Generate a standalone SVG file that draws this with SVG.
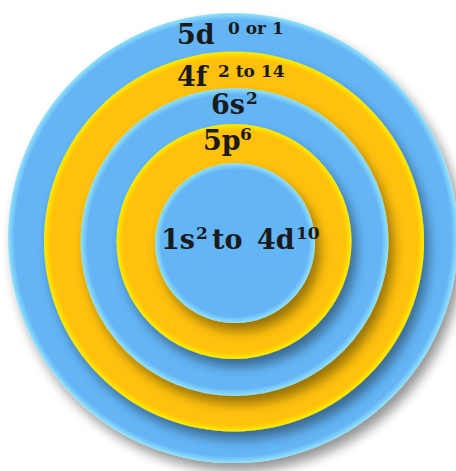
<svg xmlns="http://www.w3.org/2000/svg" width="456" height="471" viewBox="0 0 456 471">
<defs>
<filter id="ds" x="-20%" y="-20%" width="145%" height="145%">
<feGaussianBlur in="SourceAlpha" stdDeviation="6"/>
<feOffset dx="5" dy="8" result="b"/>
<feComponentTransfer><feFuncA type="linear" slope="0.42"/></feComponentTransfer>
<feMerge><feMergeNode/><feMergeNode in="SourceGraphic"/></feMerge>
</filter>
<radialGradient id="g1"><stop offset="0" stop-color="#64b5f6"/><stop offset="0.97" stop-color="#64b5f6"/><stop offset="1" stop-color="#93e3fb"/></radialGradient>
<radialGradient id="g2"><stop offset="0" stop-color="#ffc107"/><stop offset="0.965" stop-color="#ffc107"/><stop offset="1" stop-color="#ffee00"/></radialGradient>
<radialGradient id="g3"><stop offset="0" stop-color="#64b5f6"/><stop offset="0.955" stop-color="#64b5f6"/><stop offset="1" stop-color="#93e3fb"/></radialGradient>
<radialGradient id="g4"><stop offset="0" stop-color="#ffc107"/><stop offset="0.945" stop-color="#ffc107"/><stop offset="1" stop-color="#ffee00"/></radialGradient>
<radialGradient id="g5"><stop offset="0" stop-color="#64b5f6"/><stop offset="0.92" stop-color="#64b5f6"/><stop offset="1" stop-color="#93e3fb"/></radialGradient>
</defs>
<style>
text{font-family:"DejaVu Serif","Liberation Serif",serif;font-weight:bold;fill:#1a1a1a}
.m{font-size:27px}
.s{font-size:17px}
</style>
<g id="shell-5d"><circle cx="233" cy="238" r="225" fill="url(#g1)" filter="url(#ds)"/></g>
<g id="shell-4f"><circle cx="234" cy="241.5" r="190" fill="url(#g2)" filter="url(#ds)"/></g>
<g id="shell-6s"><circle cx="234.5" cy="242" r="154" fill="url(#g3)" filter="url(#ds)"/></g>
<g id="shell-5p"><circle cx="234" cy="241.5" r="117.5" fill="url(#g4)" filter="url(#ds)"/></g>
<g id="core"><circle cx="235" cy="243" r="80" fill="url(#g5)" filter="url(#ds)"/></g>
<g id="labels">
<text class="m" x="177" y="44">5d</text><text class="s" x="228" y="34">0 or 1</text>
<text class="m" x="177" y="86">4f</text><text class="s" x="218" y="77">2 to 14</text>
<text class="m" x="211" y="114">6s</text><text class="s" x="246" y="104">2</text>
<text class="m" x="203" y="150">5p</text><text class="s" x="240" y="140">6</text>
<text class="m" x="161" y="249">1s</text><text class="s" x="196" y="239">2</text>
<text class="m" x="212" y="249">to</text>
<text class="m" x="257" y="249">4d</text><text class="s" x="296" y="239">10</text>
</g>
</svg>
